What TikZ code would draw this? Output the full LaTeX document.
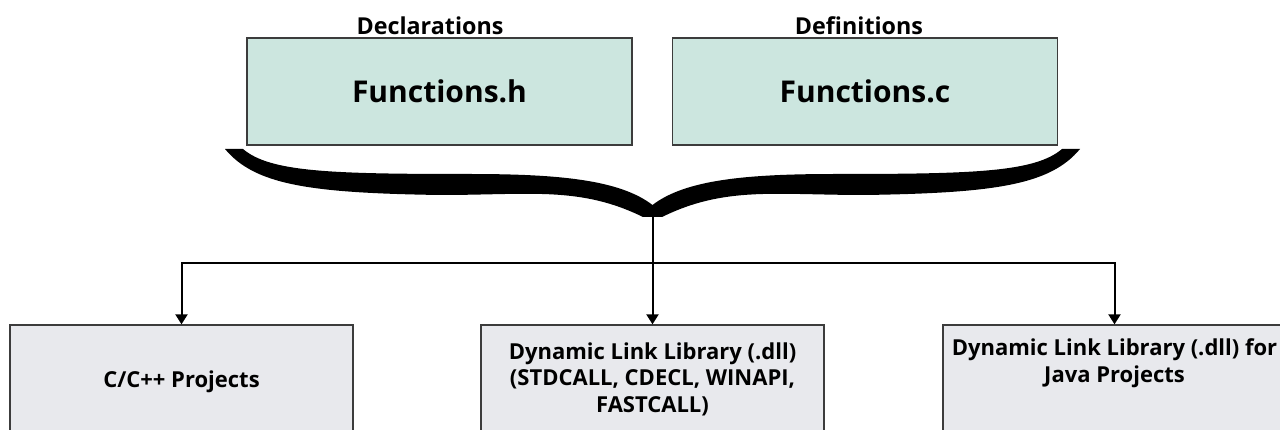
\documentclass[tikz,border=0pt]{standalone}
\usepackage{fontspec}
\setmainfont{Open Sans}
\usetikzlibrary{arrows.meta}
\definecolor{mint}{RGB}{204,230,223}
\definecolor{pale}{RGB}{232,233,237}
\definecolor{edge}{RGB}{60,60,60}
\begin{document}
\begin{tikzpicture}[x=1pt,y=-1pt,
  filebox/.style={draw=edge, line width=1.3pt, fill=mint, minimum width=385pt,
    minimum height=107pt, inner sep=0pt, font=\bfseries\fontsize{30}{36}\selectfont},
  targetbox/.style={draw=edge, line width=1.3pt, fill=pale, minimum width=343pt,
    minimum height=130pt, inner sep=0pt},
  caption/.style={font=\bfseries\fontsize{23.3}{28}\selectfont, anchor=base, inner sep=0pt},
  boxtext/.style={font=\bfseries\fontsize{22}{26.5}\selectfont, align=center, inner sep=0pt},
  link/.style={line width=2pt},
  feed/.style={link, -{Triangle[width=12pt,length=10pt]}}]
\clip (0,0) rectangle (1280,430);
\fill[white] (0,0) rectangle (1280,430);

% source files
\node[filebox] (hdr) at (439.5,91.5) {Functions.h};
\node[filebox] (src) at (865,91.5) {Functions.c};
\node[caption] (declab) at (430,35) {Declarations};
\node[caption] (deflab) at (859,35) {Definitions};

% curly brace joining both files
\fill (225,149) .. controls (255,185) and (310,193) .. (440,195)
  .. controls (530,195) and (580,186) .. (643,217)
  -- (662,217)
  .. controls (725,186) and (775,195) .. (865,195)
  .. controls (995,193) and (1050,185) .. (1080,149)
  -- (1062,149)
  .. controls (1035,172) and (975,174) .. (835,174)
  .. controls (745,174) and (685,180) .. (652.5,205)
  .. controls (620,180) and (560,174) .. (470,174)
  .. controls (330,174) and (270,172) .. (243,149) -- cycle;

% build targets
\node[targetbox] (cpp) at (181.5,390) {};
\node[targetbox] (dll) at (652.5,390) {};
\node[targetbox] (jni) at (1114.5,390) {};
\node[boxtext, anchor=base] (cpptxt) at (181.5,388) {C/C++ Projects};
\node[boxtext, anchor=north] (dlltxt) at (652.5,342.5)
  {Dynamic Link Library (.dll)\\(STDCALL, CDECL, WINAPI,\\FASTCALL)};
\node[boxtext, anchor=north] (jnitxt) at (1114.5,338.5)
  {Dynamic Link Library (.dll) for\\Java Projects};

% distribution lines
\coordinate (tip) at (652.5,217);
\coordinate (hub) at (652.5,263);
\draw[link] (tip) -- (hub);
\draw[feed] (hub) -- (dll.north);
\draw[feed] (hub) -| (cpp.north);
\draw[feed] (hub) -| (jni.north);
\end{tikzpicture}
\end{document}
